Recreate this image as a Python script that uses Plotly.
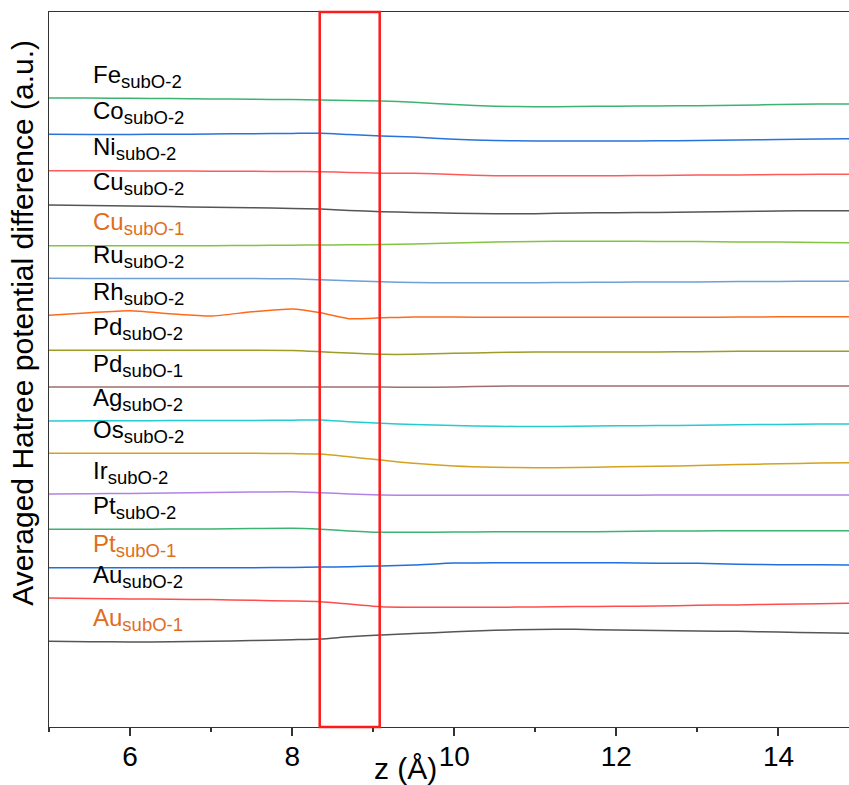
import plotly.graph_objects as go

# ---- data -----------------------------------------------------------------
z = [5.0, 5.5, 6.0, 6.5, 7.0, 7.5, 8.0, 8.35, 8.7, 9.1, 9.5, 10.0, 10.5,
     11.0, 11.5, 12.0, 12.5, 13.0, 13.5, 14.0, 14.5, 14.87]

names = ["Fe", "Co", "Ni", "Cu", "Cu", "Ru", "Rh", "Pd", "Pd", "Ag", "Os",
         "Ir", "Pt", "Pt", "Au", "Au"]
subs = ["subO-2", "subO-2", "subO-2", "subO-2", "subO-1", "subO-2", "subO-2",
        "subO-2", "subO-1", "subO-2", "subO-2", "subO-2", "subO-2", "subO-1",
        "subO-2", "subO-1"]

# vertical offsets used to stack the curves (a.u.)
offsets = [62.9, 59.27, 55.63, 52.2, 48.13, 44.87, 41.17, 37.67, 34.0, 30.6,
           27.37, 23.3, 19.77, 15.93, 12.9, 8.57]

# potential difference relative to the value at z = 5 Å (a.u.)
fe = [0, -0.01, -0.03, -0.06, -0.09, -0.12, -0.16, -0.2, -0.24, -0.3, -0.43,
      -0.66, -0.82, -0.87, -0.85, -0.82, -0.8, -0.77, -0.72, -0.66, -0.61, -0.6]
co = [0, -0.02, -0.01, 0, 0.03, 0.06, 0.09, 0.1, -0.03, -0.18, -0.28, -0.5,
      -0.63, -0.67, -0.67, -0.67, -0.65, -0.63, -0.58, -0.52, -0.46, -0.44]
ni = [0, -0.01, -0.02, -0.03, -0.05, -0.06, -0.08, -0.1, -0.17, -0.25, -0.26,
      -0.38, -0.5, -0.5, -0.5, -0.5, -0.47, -0.43, -0.42, -0.38, -0.36, -0.36]
cu2 = [0, -0.05, -0.1, -0.16, -0.22, -0.28, -0.34, -0.4, -0.54, -0.67, -0.74,
       -0.82, -0.87, -0.87, -0.8, -0.77, -0.75, -0.69, -0.64, -0.6, -0.57, -0.57]
cu1 = [0, 0, 0, 0, 0, 0.02, 0.05, 0.07, 0.09, 0.12, 0.18, 0.26, 0.36, 0.43,
       0.44, 0.44, 0.43, 0.41, 0.38, 0.36, 0.32, 0.3]
ru = [0, -0.01, -0.01, -0.02, -0.02, -0.03, -0.05, -0.15, -0.24, -0.34, -0.42,
      -0.45, -0.45, -0.44, -0.42, -0.39, -0.37, -0.36, -0.33, -0.31, -0.3, -0.3]
rh = [0, 0.26, 0.45, 0.15, -0.08, 0.35, 0.64, 0.26, -0.34, -0.25, -0.16,
      -0.18, -0.2, -0.2, -0.2, -0.2, -0.2, -0.2, -0.18, -0.15, -0.14, -0.14]
pd2 = [0, 0, 0, 0, 0, 0, -0.02, -0.14, -0.28, -0.4, -0.4, -0.3, -0.22, -0.18,
       -0.17, -0.17, -0.16, -0.14, -0.1, -0.1, -0.1, -0.1]
pd1 = [0, 0, 0, 0, 0, 0, 0, 0, 0, -0.01, -0.03, 0, 0.08, 0.1, 0.1, 0.1, 0.1,
       0.1, 0.1, 0.1, 0.1, 0.1]
ag = [0, 0.02, 0.03, 0.04, 0.05, 0.06, 0.08, 0.1, -0.08, -0.23, -0.35, -0.46,
      -0.52, -0.56, -0.53, -0.48, -0.46, -0.42, -0.38, -0.34, -0.3, -0.3]
os_ = [0, 0, 0, 0, 0, 0, -0.03, -0.08, -0.35, -0.68, -1.0, -1.27, -1.4, -1.44,
       -1.42, -1.35, -1.3, -1.23, -1.13, -1.05, -0.98, -0.94]
ir = [0, 0.03, 0.06, 0.1, 0.14, 0.2, 0.23, 0.13, 0, -0.1, -0.12, -0.13, -0.13,
      -0.13, -0.12, -0.12, -0.11, -0.11, -0.1, -0.1, -0.1, -0.1]
pt2 = [0, 0, 0, 0.02, 0.04, 0.07, 0.1, 0, -0.16, -0.3, -0.3, -0.28, -0.25,
       -0.24, -0.24, -0.23, -0.18, -0.16, -0.15, -0.14, -0.14, -0.14]
pt1 = [0, 0, 0, 0, 0, 0, 0.03, 0.06, 0.1, 0.17, 0.26, 0.46, 0.5, 0.5, 0.5,
       0.5, 0.45, 0.44, 0.35, 0.3, 0.3, 0.28]
au2 = [0, -0.05, -0.09, -0.12, -0.16, -0.23, -0.3, -0.37, -0.6, -0.87, -0.92,
       -0.93, -0.92, -0.9, -0.86, -0.83, -0.8, -0.73, -0.69, -0.63, -0.58, -0.53]
au1 = [0, -0.04, -0.07, -0.05, 0, 0.07, 0.16, 0.23, 0.45, 0.63, 0.78, 0.95,
       1.1, 1.18, 1.2, 1.12, 1.08, 1.03, 1.0, 0.93, 0.85, 0.8]

series = [fe, co, ni, cu2, cu1, ru, rh, pd2, pd1, ag, os_, ir, pt2, pt1, au2, au1]

major_ticks = [6, 8, 10, 12, 14]
minor_ticks = [5, 7, 9, 11, 13]
highlight = [8.34, 9.08]   # highlighted z-window (Å)
x_range = [5, 14.87]

# ---- styles ----------------------------------------------------------------
line_colors = ["#3cb371", "#2a72dc", "#ff5a5a", "#555555", "#84c441",
               "#6e9fd6", "#ff6a1a", "#9c9c26", "#9e6e6e", "#22ccd2",
               "#d4a21e", "#b283e6", "#3cb371", "#1f6fe0", "#ff4d4d",
               "#555555"]
orange = "#e06d1c"
label_colors = ["black"] * 16
for i in (4, 13, 15):
    label_colors[i] = orange

FONT = "Liberation Sans, Arial, sans-serif"

fig = go.Figure()
for ys, off, col in zip(series, offsets, line_colors):
    fig.add_trace(go.Scatter(
        x=z, y=[off + v for v in ys], mode="lines",
        line=dict(color=col, width=1.5, shape="spline", smoothing=0.6),
        showlegend=False, hoverinfo="skip"))

# invisible traces hosting the tick-mark axes
for ax in ("x2", "x3"):
    fig.add_trace(go.Scatter(x=[z[0]], y=[offsets[-1]], xaxis=ax,
                             mode="lines", line=dict(width=0),
                             showlegend=False, hoverinfo="skip"))

annotations = []
for n, s, off, c in zip(names, subs, offsets, label_colors):
    annotations.append(dict(
        x=5.52, y=off + 0.45, xref="x", yref="y", xanchor="left",
        yanchor="bottom", showarrow=False,
        text=f"{n}<sub><span style='font-size:18.5px'>{s}</span></sub>",
        font=dict(family=FONT, size=24, color=c)))

annotations.append(dict(
    x=0.445, y=-0.058, xref="paper", yref="paper", xanchor="center",
    yanchor="middle", showarrow=False, text="z (Å)",
    font=dict(family=FONT, size=30, color="black")))
annotations.append(dict(
    x=-0.034, y=0.565, xref="paper", yref="paper", xanchor="center",
    yanchor="middle", showarrow=False, textangle=-90,
    text="Averaged Hatree potential difference (a.u.)",
    font=dict(family=FONT, size=30, color="black")))

fig.add_shape(type="rect", xref="x", yref="paper",
              x0=highlight[0], x1=highlight[1], y0=0, y1=1,
              line=dict(color="#ff1a1a", width=2.5))

tick_style = dict(ticks="outside", tickwidth=1.5, tickcolor="#333",
                  showticklabels=False, showline=False, showgrid=False,
                  zeroline=False, side="bottom", overlaying="x",
                  range=x_range, tickmode="array")

fig.update_layout(
    width=849, height=785,
    margin=dict(l=49, r=0, t=12, b=58),
    paper_bgcolor="white", plot_bgcolor="white",
    annotations=annotations,
    xaxis=dict(range=x_range, tickmode="array", tickvals=major_ticks,
               ticks="", ticklabelstandoff=4,
               tickfont=dict(family=FONT, size=28, color="black"),
               showline=True, linecolor="#333", linewidth=1.3,
               mirror=True, showgrid=False, zeroline=False),
    xaxis2=dict(tickvals=major_ticks, ticklen=8, **tick_style),
    xaxis3=dict(tickvals=minor_ticks, ticklen=4, **tick_style),
    yaxis=dict(range=[0, 71.5], showticklabels=False, ticks="",
               showline=True, linecolor="#333", linewidth=1.3,
               showgrid=False, zeroline=False),
)

fig.write_html("out.html")
